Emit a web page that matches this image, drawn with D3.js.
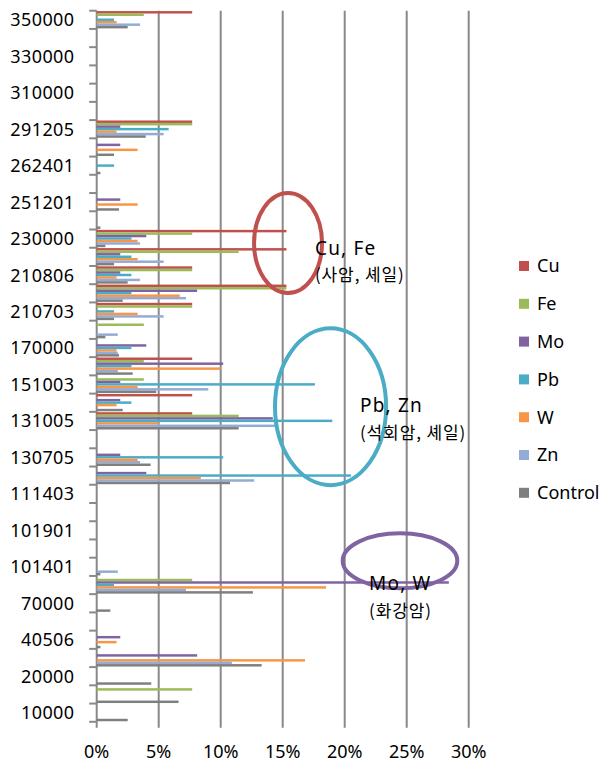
<!DOCTYPE html>
<html><head><meta charset="utf-8">
<script src="https://cdn.jsdelivr.net/npm/d3@7"></script>
<style>html,body{margin:0;padding:0;background:#fff}</style>
</head><body><svg id="c" width="612" height="777"></svg>
<script>
// Categories bottom -> top; every second label is hidden in the source chart (names unknown -> placeholders)
const categories = ["10000","c02","20000","c04","40506","c06","70000","c08","101401","c10","101901","c12","111403","c14","130705","c16","131005","c18","151003","c20","170000","c22","210703","c24","210806","c26","230000","c28","251201","c30","262401","c32","291205","c34","310000","c36","330000","c38","350000"];
const shownLabels = categories.filter((d, i) => i % 2 === 0);
const seriesNames = ["Cu","Fe","Mo","Pb","W","Zn","Control"];
const seriesColors = ["#C0504D","#9BBB59","#8064A2","#4BACC6","#F79646","#94ABD5","#7F7F7F"];
// values in %
const Cu = [0,0,0,0,0,0,0,0,0,0, 0,0,0,0,0,0,7.7,7.7,0,7.7, 0,0,7.7,15.3,7.7,15.3,15.3,0,0,0, 0,0,7.7,0,0,0,0,0,7.7];
const Fe = [0,7.7,0,0,0,0,0,7.7,0,0, 0,0,0,0,0,0,11.45,0,3.8,3.8, 0,3.8,7.7,15.3,7.7,11.45,7.7,0,0,0, 0,0,7.7,0,0,0,0,0,3.8];
const Mo = [0,0,0,8.1,1.9,0,0,28.4,0,0, 0,0,0,4.0,1.9,0,14.2,1.9,1.9,10.2, 4.0,0,0,8.1,1.9,1.9,4.0,0,1.9,0, 0,1.9,1.9,0,0,0,0,0,0];
const Pb = [0,0,0,0,0,0,0,1.4,0,0, 0,0,0,20.5,10.2,0,19.0,2.8,17.6,2.8, 2.8,0,1.4,2.8,2.8,2.8,2.8,0,0,0, 1.4,0,5.8,0,0,0,0,0,1.4];
const W  = [0,0,0,16.8,1.6,0,0,18.5,0,0, 0,0,0,8.4,3.3,0,5.0,1.6,3.3,10.0, 1.6,0,3.3,6.7,1.6,3.3,3.3,0,3.3,0, 0,3.3,1.6,0,0,0,0,0,1.6];
const Zn = [0,0,0,10.9,0,0,0,7.2,1.7,0, 0,0,0,12.7,3.5,0,14.5,0,9.0,1.7, 1.7,1.7,5.4,7.2,3.5,5.4,3.5,0,0,0, 0,0,5.4,0,0,0,0,0,3.5];
const Control = [2.5,6.6,4.4,13.3,0.3,0,1.1,12.6,0.3,0, 0,0,0,10.75,4.35,0,11.45,2.1,4.8,2.9, 1.8,0.7,1.4,2.1,2.5,1.4,0.7,0.3,1.8,0, 0.3,1.4,3.95,0,0,0,0,0,2.5];
const xTicks = [0,5,10,15,20,25,30];
// annotations: ellipse centre (x in %, y in category units), radii, labels
const notes = [
  {cx:15.43, cy:26.26, rx:2.74, ry:2.74, color:"#C0504D", tx:17.6, ty1:25.6, ty2:24.16, t1:"Cu, Fe", t2:"(사암, 셰일)"},
  {cx:18.86, cy:17.28, rx:4.48, ry:4.30, color:"#4BACC6", tx:21.23, ty1:17.01, ty2:15.53, t1:"Pb, Zn", t2:"(석회암, 셰일)"},
  {cx:24.46, cy:8.83, rx:4.62, ry:1.51, color:"#8064A2", tx:21.96, ty1:7.23, ty2:5.75, t1:"Mo, W", t2:"(화강암)"}
];

const seriesData = [Cu, Fe, Mo, Pb, W, Zn, Control];
const svg = d3.select("#c");
svg.append("rect").attr("width",612).attr("height",777).attr("fill","#fff");
const font = "'Noto Sans','Noto Sans CJK KR',sans-serif";
const L = 96.7, R = 468.7, T = 10.7, B = 721.8;
const x = d3.scaleLinear().domain([0,30]).range([L,R]);
const y = d3.scaleBand().domain(categories).range([B,T]).paddingInner(0);
const yi = d3.scaleLinear().domain([0,categories.length]).range([B,T]);
const bw = y.bandwidth();
const ys = d3.scaleBand().domain(seriesNames).range([bw*0.02, bw*0.97]);
const gridCol = "#898989";

// gridlines
svg.append("g").selectAll("line").data(xTicks).join("line")
  .attr("x1",d=>x(d)).attr("x2",d=>x(d)).attr("y1",T).attr("y2",B+6)
  .attr("stroke",gridCol).attr("stroke-width",2);
// y tick marks at category boundaries
const bounds = d3.range(categories.length+1);
svg.append("g").selectAll("line").data(bounds).join("line")
  .attr("x1",L-7.5).attr("x2",L).attr("y1",d=>yi(d)).attr("y2",d=>yi(d))
  .attr("stroke",gridCol).attr("stroke-width",2);

// bars
seriesNames.forEach((s, si) => {
  svg.append("g").selectAll("rect").data(seriesData[si].map((v,i)=>({c:categories[i], v}))).join("rect")
    .filter(d=>d.v>0)
    .attr("x",x(0)).attr("width",d=>x(d.v)-x(0))
    .attr("y",d=>y(d.c)+ys(s)).attr("height",ys.bandwidth())
    .attr("fill",seriesColors[si]);
});

// y axis labels
svg.append("g").selectAll("text").data(shownLabels).join("text")
  .attr("x",74.5).attr("y",d=>y(d)+bw/2).attr("dy","0.36em")
  .attr("text-anchor","end").attr("font-family",font).attr("font-size",18).attr("fill","#000")
  .attr("letter-spacing",0.4)
  .text(d=>d);
// x axis labels
svg.append("g").selectAll("text").data(xTicks).join("text")
  .attr("x",d=>x(d)).attr("y",758).attr("text-anchor","middle")
  .attr("font-family",font).attr("font-size",18).attr("fill","#000")
  .text(d=>d+"%");

// annotations
notes.forEach(n => {
  svg.append("ellipse").attr("cx",x(n.cx)).attr("cy",yi(n.cy))
    .attr("rx",x(n.rx)-x(0)).attr("ry",yi(0)-yi(n.ry))
    .attr("fill","none").attr("stroke",n.color).attr("stroke-width",4);
  svg.append("text").attr("x",x(n.tx)).attr("y",yi(n.ty1)).attr("font-family",font)
    .attr("font-size",19).attr("letter-spacing",1.2).attr("fill","#000").text(n.t1);
  svg.append("text").attr("x",x(n.tx)).attr("y",yi(n.ty2)).attr("font-family","'Noto Sans CJK KR',sans-serif")
    .attr("font-size",17).attr("letter-spacing",0.9).attr("fill","#000").text(n.t2);
});

// legend
const lg = svg.append("g");
seriesNames.forEach((s,i)=>{
  const cy = 266 + i*37.8;
  lg.append("rect").attr("x",519).attr("y",cy-5).attr("width",10).attr("height",10).attr("fill",seriesColors[i]);
  lg.append("text").attr("x",537).attr("y",cy).attr("dy","0.36em").attr("font-family",font)
    .attr("font-size",18).attr("fill","#000").text(s);
});
</script></body></html>
